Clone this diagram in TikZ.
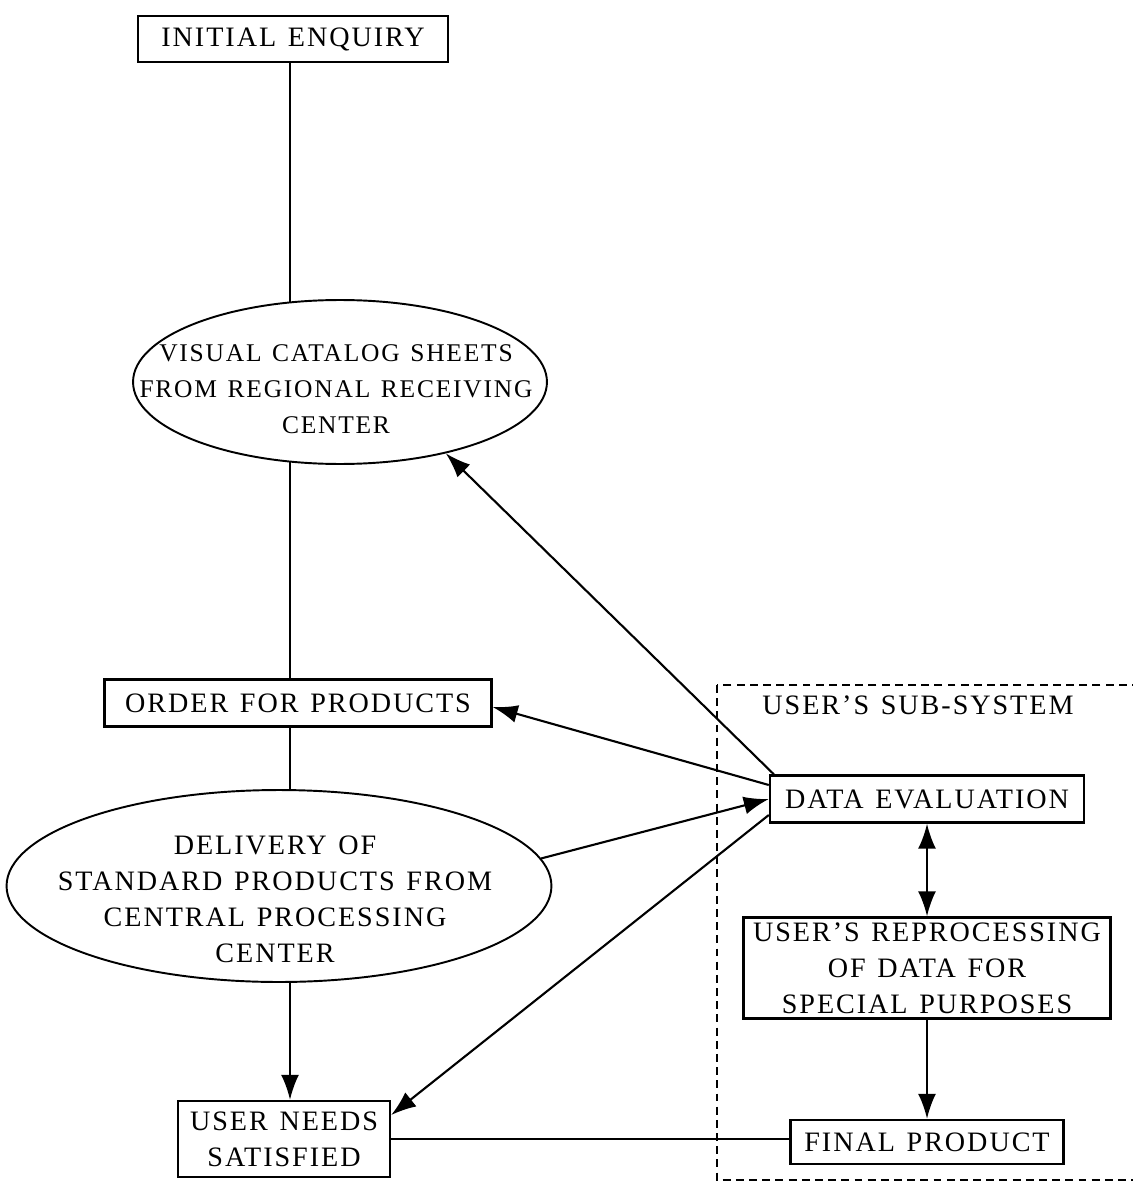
\documentclass[tikz,border=0pt]{standalone}
\usepackage{fontspec}
\setmainfont{Liberation Serif}[LetterSpace=7,WordSpace=1.3]
\usetikzlibrary{shapes.geometric,arrows.meta}

\begin{document}
\begin{tikzpicture}[x=0.02cm,y=-0.02cm,
    every node/.style={font=\fontsize{16}{20.5}\selectfont},
    box/.style={draw,line width=1.4pt,inner sep=0pt,align=center},
    oval/.style={draw,ellipse,line width=1.1pt,inner sep=0pt},
    txt/.style={align=center},
    link/.style={line width=1.2pt},
    arr/.style={line width=1.2pt,-{Latex[length=5mm,width=3.6mm]}},
    twoway/.style={line width=1.2pt,{Latex[length=5mm,width=3.6mm]}-{Latex[length=5mm,width=3.6mm]}},
    subsys/.style={line width=1.1pt,dash pattern=on 4.5pt off 3pt}]
\useasboundingbox (0,0) rectangle (1132,1185);

% user's side
\draw[subsys] (717,685) rectangle (1145,1180);
\node (sublbl) at (918,705) {USER'S SUB-SYSTEM};

% main chain
\coordinate (spine) at (290,0);
\node[box,minimum width=6.2cm,minimum height=0.92cm] (init) at (293,39) {INITIAL ENQUIRY};
\node[oval,minimum width=8.28cm,minimum height=3.28cm] (ell1) at (340,382) {};
\node[txt,font=\fontsize{14.5}{20.5}\selectfont] (ell1txt) at (336,389) {VISUAL CATALOG SHEETS\\FROM REGIONAL RECEIVING\\CENTER};
\node[box,minimum width=7.74cm,minimum height=0.94cm] (order) at (298,703) {ORDER FOR PRODUCTS};
\node[oval,minimum width=10.9cm,minimum height=3.84cm] (ell2) at (279,886) {};
\node[txt] (ell2txt) at (275,899) {DELIVERY OF\\STANDARD PRODUCTS FROM\\CENTRAL PROCESSING\\CENTER};
\node[box,minimum width=4.24cm,minimum height=1.52cm] (usern) at (284,1139) {USER NEEDS\\SATISFIED};

\node[box,minimum width=6.28cm,minimum height=0.94cm] (deval) at (927,799) {DATA EVALUATION};
\node[box,minimum width=7.34cm,minimum height=2.02cm] (reproc) at (927,968) {USER'S REPROCESSING\\OF DATA FOR\\SPECIAL PURPOSES};
\node[box,minimum width=5.46cm,minimum height=0.88cm] (final) at (927,1142) {FINAL PRODUCT};

\draw[link] (init.south -| ell1.122) -- (ell1.122);
\draw[link] (ell1.238) -- (ell1.238 |- order.north);
\draw[link] (order.south -| spine) -- (ell2.north -| spine);
\draw[arr] (ell2.south -| spine) -- (usern.north -| spine);

% feedback from evaluation
\draw[arr] ([xshift=0.1cm]deval.north west) -- (ell1.-34);
\draw[arr] ([yshift=0.28cm]deval.west) -- ([yshift=-0.08cm]order.east);
\draw[arr] (ell2.6) -- (deval.west);
\draw[arr] ([yshift=-0.32cm]deval.west) -- ([yshift=0.48cm]usern.east);

\draw[twoway] (deval) -- (reproc);
\draw[arr] (reproc) -- (final);
\draw[link] (usern.east) -- (usern.east -| final.west);
\end{tikzpicture}
\end{document}
